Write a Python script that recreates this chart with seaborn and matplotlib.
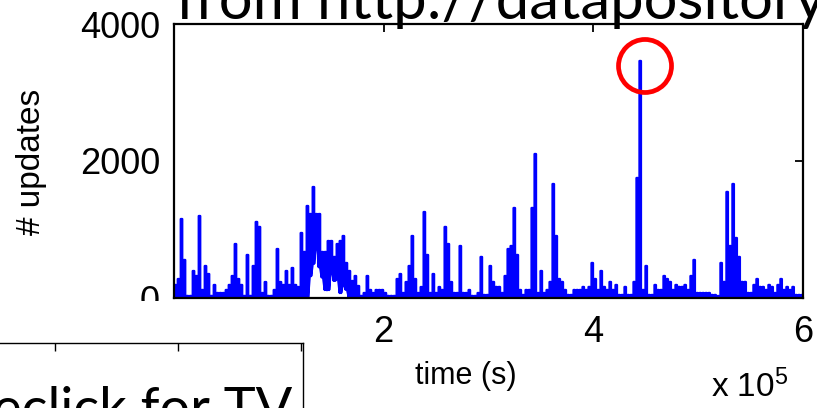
import numpy as np
import pandas as pd
import matplotlib
matplotlib.use("Agg")
import matplotlib.pyplot as plt
import seaborn as sns
from matplotlib.patches import Ellipse, Rectangle
from matplotlib.ticker import FuncFormatter

sns.set_theme(style="white")
plt.rcParams["font.family"] = ["Liberation Sans", "DejaVu Sans"]
plt.rcParams["mathtext.default"] = "regular"

title_text = "from http://datapository"
corner_text = "eclick for TV"
x_label = "time (s)"
y_label = "# updates"
x_ticks = [0, 2e5, 4e5, 6e5]
y_ticks = [0, 2000, 4000]
bin_seconds = 2860

# per-bin maxima (# updates)
peaks = [
    190, 277, 1153, 555, 30, 30, 394, 321, 1197, 117,
    467, 350, 30, 190, 73, 73, 73, 117, 190, 321,
    788, 277, 190, 30, 628, 30, 467, 1110, 1037, 73,
    233, 30, 30, 117, 715, 233, 190, 394, 190, 438,
    190, 160, 949, 672, 1343, 1226, 1620, 1226, 1226, 672,
    672, 832, 832, 599, 788, 832, 905, 511, 394, 248,
    321, 175, 30, 73, 321, 117, 73, 117, 117, 117,
    73, 30, 30, 30, 277, 350, 73, 233, 467, 905,
    277, 73, 160, 1255, 628, 73, 350, 73, 160, 117,
    1037, 788, 233, 73, 73, 759, 73, 73, 117, 30,
    30, 73, 599, 44, 44, 467, 234, 161, 161, 73,
    321, 715, 759, 1314, 628, 117, 44, 117, 117, 1314,
    2102, 73, 394, 73, 117, 234, 1664, 905, 277, 234,
    117, 44, 44, 117, 117, 117, 161, 117, 161, 511,
    277, 117, 394, 161, 117, 234, 117, 190, 44, 44,
    161, 44, 44, 234, 1752, 3460, 117, 467, 44, 44,
    190, 117, 117, 321, 277, 234, 117, 190, 161, 161,
    190, 117, 321, 555, 73, 73, 73, 73, 73, 44,
    44, 29, 511, 234, 1548, 759, 1664, 876, 599, 234,
    234, 73, 73, 190, 277, 161, 161, 117, 190, 161,
    73, 190, 277, 117, 161, 117, 161, 44, 44, 44,
]
# per-bin minima (# updates)
troughs = [
    15, 15, 15, 15, 15, 15, 15, 15, 15, 15,
    15, 15, 15, 15, 15, 15, 15, 15, 15, 15,
    15, 15, 15, 15, 15, 15, 15, 15, 15, 15,
    15, 15, 15, 15, 15, 15, 15, 15, 15, 15,
    15, 15, 15, 15, 15, 320, 500, 790, 450, 300,
    117, 117, 400, 250, 280, 73, 200, 120, 15, 15,
    15, 15, 15, 15, 15, 15, 15, 15, 15, 15,
    15, 15, 15, 15, 15, 15, 15, 15, 15, 15,
    15, 15, 15, 15, 15, 15, 15, 15, 15, 15,
    15, 15, 15, 15, 15, 15, 15, 15, 15, 15,
    15, 15, 15, 15, 15, 15, 15, 15, 15, 15,
    15, 15, 15, 15, 15, 15, 15, 15, 15, 15,
    15, 15, 15, 15, 15, 15, 15, 15, 15, 15,
    15, 15, 15, 15, 15, 15, 15, 15, 15, 15,
    15, 15, 15, 15, 15, 15, 15, 15, 15, 15,
    15, 15, 15, 15, 15, 15, 15, 15, 15, 15,
    15, 15, 15, 15, 15, 15, 15, 15, 15, 15,
    15, 15, 15, 15, 15, 15, 15, 15, 15, 15,
    15, 15, 15, 15, 15, 15, 15, 15, 15, 15,
    15, 15, 15, 15, 15, 15, 15, 15, 15, 15,
    15, 15, 15, 15, 15, 15, 15, 15, 15, 15,
]

centers = np.arange(len(peaks)) * bin_seconds + bin_seconds / 2
half = 680
rows = []
for c, lo, hi in zip(centers, troughs, peaks):
    rows += [(c - half, lo), (c - half, hi), (c + half, hi), (c + half, lo)]
df = pd.DataFrame(rows, columns=["t", "updates"])

W, H = 817, 408
fig = plt.figure(figsize=(W / 100, H / 100), dpi=100)
fig.patch.set_facecolor("white")
ax = fig.add_axes([174 / W, 1 - 298 / H, 629 / W, 274 / H])
sns.lineplot(data=df, x="t", y="updates", sort=False, estimator=None,
             color="#0000ff", lw=1.7, ax=ax)

ax.set_xlim(0, 6e5)
ax.set_ylim(0, 4000)
ax.set_xticks(x_ticks)
ax.set_yticks(y_ticks)
ax.xaxis.set_major_formatter(FuncFormatter(lambda v, p: f"{v / 1e5:g}"))
ax.yaxis.set_major_formatter(FuncFormatter(lambda v, p: f"{v:g}"))
ax.tick_params(axis="both", direction="in", length=6, width=1.3,
               top=True, right=True, labelsize=26, colors="black")
ax.tick_params(axis="y", pad=10)
ax.tick_params(axis="x", pad=12)
for s in ax.spines.values():
    s.set_visible(True)
    s.set_color("black")
    s.set_linewidth(1.6)
ax.set_facecolor("white")
ax.grid(False)

ax.set_xlabel(x_label, fontsize=22, color="black")
ax.xaxis.set_label_coords(0.464, -0.285)
ax.xaxis.label.set_va("center")
ax.set_ylabel(y_label, fontsize=24, color="black")
ax.yaxis.set_label_coords(-0.226, 0.496)
ax.yaxis.label.set_va("center")
ax.text(0.853, -0.325, r"x 10$^5$", transform=ax.transAxes, fontsize=24,
        ha="left", va="center", color="black")

ax.add_patch(Ellipse((449300, 3387), width=50560, height=774, fill=False,
                     edgecolor="#ff0000", lw=3.4, clip_on=False, zorder=5))

# white slide area covering the lower left
fig.patches.append(Rectangle((0, 0), 195 / W, (H - 301) / H, transform=fig.transFigure,
                             facecolor="white", edgecolor="none", zorder=5))

# second (cut-off) panel in the lower-left corner
ax2 = fig.add_axes([-10 / W, -0.1, 313 / W, (1 - 343 / H) + 0.1], zorder=6)
ax2.set_xlim(-10, 303)
ax2.set_ylim(0, 1)
ax2.set_xticks([55, 178, 301])
ax2.set_yticks([])
ax2.tick_params(axis="x", direction="in", length=6, width=1.0, top=True,
                bottom=False, labeltop=False, labelbottom=False, colors="black")
for s in ax2.spines.values():
    s.set_color("black")
    s.set_linewidth(1.0)
ax2.set_facecolor("white")

fig.text(292 / W, (H - 426) / H, corner_text, ha="right", va="baseline",
         fontsize=39, family=["Lato", "DejaVu Sans"], color="black", zorder=10)
fig.text(176 / W, 1 - 19 / H, title_text, ha="left", va="baseline",
         fontsize=43, family=["Lato", "DejaVu Sans"], color="black", zorder=10)

fig.savefig("out.png", dpi=100, facecolor="white")
